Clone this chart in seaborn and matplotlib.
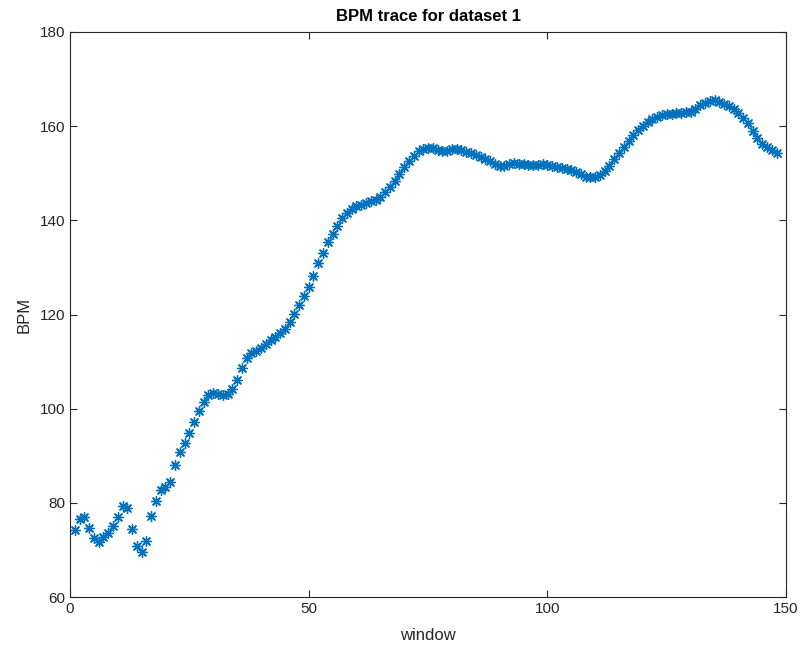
import numpy as np
import pandas as pd
import matplotlib
matplotlib.use("Agg")
import matplotlib.pyplot as plt
import seaborn as sns

# Estimated heart rate per analysis window
window = list(range(1, 149))
bpm = [
    74.3, 76.5, 77.0, 74.6, 72.5, 71.6, 72.8, 73.5, 75.1, 77.0,
    79.4, 79.0, 74.4, 70.8, 69.5, 72.0, 77.2, 80.3, 82.7, 83.3,
    84.5, 88.1, 90.9, 92.8, 94.8, 97.2, 99.5, 101.5, 102.9, 103.3,
    103.2, 102.9, 103.1, 104.1, 106.1, 108.7, 110.7, 111.8, 112.3, 112.9,
    113.7, 114.5, 115.3, 116.0, 116.9, 118.5, 120.2, 122.0, 123.9, 125.9,
    128.1, 130.9, 133.1, 135.3, 137.2, 138.8, 140.4, 141.6, 142.5, 143.0,
    143.3, 143.6, 144.0, 144.4, 145.0, 146.0, 147.1, 148.3, 149.8, 151.3,
    152.5, 153.7, 154.7, 155.2, 155.4, 155.3, 155.0, 154.8, 154.8, 155.1,
    155.2, 155.0, 154.6, 154.2, 153.8, 153.5, 153.0, 152.5, 151.9, 151.5,
    151.6, 151.9, 152.1, 152.0, 151.9, 151.8, 151.7, 151.8, 151.9, 151.8,
    151.6, 151.4, 151.2, 150.9, 150.6, 150.2, 149.8, 149.3, 149.1, 149.2,
    149.6, 150.4, 151.6, 153.0, 154.3, 155.6, 156.9, 158.1, 159.1, 160.1,
    160.8, 161.5, 162.0, 162.3, 162.5, 162.6, 162.7, 162.8, 162.9, 163.1,
    163.7, 164.4, 165.0, 165.4, 165.6, 165.2, 164.7, 164.2, 163.6, 162.8,
    161.8, 160.6, 158.9, 157.4, 156.3, 155.5, 154.9, 154.3,
]
x_ticks = [0, 50, 100, 150]
y_ticks = [60, 80, 100, 120, 140, 160, 180]

sns.set_theme(style="white")
plt.rcParams["font.family"] = ["Liberation Sans", "DejaVu Sans"]

df = pd.DataFrame({"window": window, "BPM": bpm})

fig = plt.figure(figsize=(8.02, 6.5), dpi=100)
ax = fig.add_axes([0.0873, 0.0815, 0.8929, 0.8693])

sns.scatterplot(data=df, x="window", y="BPM", ax=ax, marker=(8, 2, 0),
                s=50, color="#0072BD", edgecolor="#0072BD", linewidth=1.0,
                legend=False)

ax.set_xlim(0, 150)
ax.set_ylim(60, 180)
ax.set_xticks(x_ticks)
ax.set_yticks(y_ticks)
ax.tick_params(direction="in", length=5, width=0.8, colors="#262626",
               labelsize=11, top=True, right=True, bottom=True, left=True,
               labelcolor="#262626")
for sp in ax.spines.values():
    sp.set_visible(True)
    sp.set_color("#262626")
    sp.set_linewidth(0.8)

ax.set_xlabel("window", fontsize=12, color="#262626", labelpad=9)
ax.set_ylabel("BPM", fontsize=12, color="#262626", labelpad=6)
ax.set_title("BPM trace for dataset 1", fontsize=12, fontweight="bold",
             color="black", pad=8)

fig.savefig("out.png", dpi=100)
